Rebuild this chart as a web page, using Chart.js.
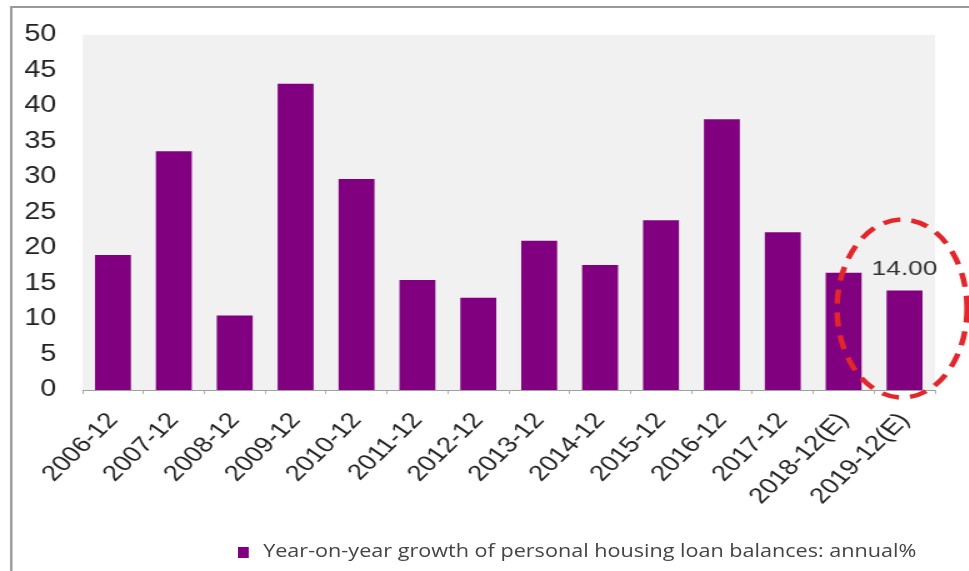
<!DOCTYPE html>
<html>
<head>
<meta charset="utf-8">
<script src="https://cdn.jsdelivr.net/npm/chart.js@4/dist/chart.umd.min.js"></script>
<style>
  html, body { margin: 0; padding: 0; background: #fff; overflow: hidden; }
  /* the whole figure is drawn narrow and widened, like the printed version */
  #wrap { position: relative; width: 775px; height: 571px; transform: scaleX(1.25); transform-origin: 0 0; }
  #chartResult { position: absolute; left: 0; top: 0; }
  #legend { position: absolute; left: 190px; top: 539px; font-family: "Open Sans", sans-serif; font-size: 17.3px; color: #444; white-space: nowrap; }
  #legend .box { display: inline-block; width: 8.5px; height: 11px; margin-right: 12px; vertical-align: -1px; }
</style>
</head>
<body>
<div id="wrap">
  <canvas id="chartResult" width="775" height="571"></canvas>
  <div id="legend"></div>
</div>
<script>
var categories = ['2006-12', '2007-12', '2008-12', '2009-12', '2010-12', '2011-12', '2012-12',
    '2013-12', '2014-12', '2015-12', '2016-12', '2017-12', '2018-12(E)', '2019-12(E)'];
var growthValues = [19.0, 33.6, 10.5, 43.1, 29.7, 15.5, 13.0, 21.0, 17.6, 23.9, 38.1, 22.2, 16.5, 14.00];
var yTicks = [0, 5, 10, 15, 20, 25, 30, 35, 40, 45, 50];
var seriesLabel = 'Year-on-year growth of personal housing loan balances: annual%';

// grey plot area plus the frame lines on top and left
var backdrop = {
    id: 'backdrop',
    beforeDraw: function (chart) {
        var ctx = chart.ctx, a = chart.chartArea;
        ctx.save();
        ctx.fillStyle = '#f1f1f1';
        ctx.fillRect(a.left, a.top, a.right - a.left, a.bottom - a.top);
        ctx.strokeStyle = '#9a9a9a';
        ctx.lineWidth = 2;
        ctx.beginPath();
        ctx.moveTo(9, chart.height);
        ctx.lineTo(9, 7);
        ctx.lineTo(chart.width, 7);
        ctx.stroke();
        ctx.restore();
    }
};

// value label and red dashed ring on the last (forecast) bar
var highlight = {
    id: 'highlight',
    afterDatasetsDraw: function (chart) {
        var ctx = chart.ctx;
        var i = growthValues.length - 1;
        var bar = chart.getDatasetMeta(0).data[i];
        ctx.save();
        ctx.fillStyle = '#333';
        ctx.font = '21px "Liberation Sans", Arial, sans-serif';
        ctx.textAlign = 'center';
        ctx.textBaseline = 'alphabetic';
        ctx.fillText(growthValues[i].toFixed(2), bar.x, bar.y - 16);

        ctx.strokeStyle = '#e3262b';
        ctx.lineWidth = 4.5;
        ctx.setLineDash([14, 9]);
        ctx.beginPath();
        ctx.ellipse(bar.x - 2, bar.y + 18, 52, 89, 0, 0, Math.PI * 2);
        ctx.stroke();
        ctx.restore();
    }
};

var canvasShow = document.getElementById('chartResult');
var mainChart = new Chart(canvasShow, {
    type: 'bar',
    data: {
        labels: categories,
        datasets: [{
            label: seriesLabel,
            data: growthValues,
            backgroundColor: '#800080',
            barPercentage: 0.59,
            categoryPercentage: 1.0
        }]
    },
    options: {
        responsive: false,
        animation: false,
        layout: { padding: { left: 0, right: 27, top: 31, bottom: 0 } },
        plugins: {
            legend: { display: false },
            tooltip: { enabled: false }
        },
        scales: {
            x: {
                grid: { drawOnChartArea: false, drawTicks: true, tickLength: 4, color: '#b0b0b0' },
                border: { display: true, color: '#a0a0a0', width: 1 },
                ticks: {
                    minRotation: 50,
                    maxRotation: 50,
                    padding: 14,
                    color: '#222',
                    font: { family: '"Liberation Sans", Arial, sans-serif', size: 22 }
                },
                afterFit: function (scale) { scale.height = 181; }
            },
            y: {
                min: 0,
                max: 50,
                afterBuildTicks: function (scale) {
                    scale.ticks = yTicks.map(function (v) { return { value: v }; });
                },
                grid: { display: false, drawTicks: false },
                border: { display: false },
                ticks: {
                    padding: 21,
                    color: '#222',
                    font: { family: '"Liberation Sans", Arial, sans-serif', size: 23 }
                },
                afterFit: function (scale) { scale.width = 66; }
            }
        }
    },
    plugins: [backdrop, highlight]
});

// legend built from the dataset
var legendEl = document.getElementById('legend');
mainChart.data.datasets.forEach(function (ds) {
    var box = document.createElement('span');
    box.className = 'box';
    box.style.background = ds.backgroundColor;
    legendEl.appendChild(box);
    legendEl.appendChild(document.createTextNode(ds.label));
});
</script>
</body>
</html>
